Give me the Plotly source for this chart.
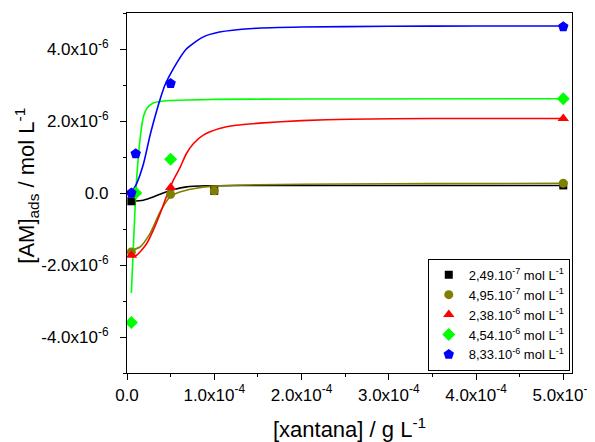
import plotly.graph_objects as go

# ---- data ----
legend_names = [
    "2,49.10<sup>-7</sup> mol L<sup>-1</sup>",
    "4,95.10<sup>-7</sup> mol L<sup>-1</sup>",
    "2,38.10<sup>-6</sup> mol L<sup>-1</sup>",
    "4,54.10<sup>-6</sup> mol L<sup>-1</sup>",
    "8,33.10<sup>-6</sup> mol L<sup>-1</sup>",
]

# measured points
black_x = [5e-6, 1e-4, 5e-4]
black_y = [-0.23e-6, 0.06e-6, 0.21e-6]
olive_x = [5e-6, 5e-5, 1e-4, 5e-4]
olive_y = [-1.64e-6, -0.04e-6, 0.06e-6, 0.27e-6]
red_x = [5e-6, 5e-5, 5e-4]
red_y = [-1.73e-6, 0.15e-6, 2.07e-6]
green_x = [5e-6, 1e-5, 5e-5, 5e-4]
green_y = [-3.6e-6, 0.0, 0.94e-6, 2.62e-6]
blue_x = [5e-6, 1e-5, 5e-5, 5e-4]
blue_y = [0.0, 1.09e-6, 3.04e-6, 4.62e-6]

# fitted curves
black_fit_x = [5e-6, 1.87e-5, 3.0e-5, 4.15e-5, 5.3e-5, 6.83e-5, 9.1e-5, 1.3e-4, 2.0e-4, 3.5e-4, 5e-4]
black_fit_y = [-0.23e-6, -0.2e-6, -0.11e-6, 0.0, 0.09e-6, 0.17e-6, 0.2e-6, 0.21e-6, 0.21e-6, 0.21e-6, 0.21e-6]
olive_fit_x = [5e-6, 1.49e-5, 2.63e-5, 3.78e-5, 4.92e-5, 6.06e-5, 7.6e-5, 9.9e-5, 1.5e-4, 2.5e-4, 3.5e-4, 5e-4]
olive_fit_y = [-1.59e-6, -1.5e-6, -1.13e-6, -0.53e-6, -0.11e-6, 0.03e-6, 0.12e-6, 0.19e-6, 0.23e-6, 0.25e-6, 0.26e-6, 0.27e-6]
red_fit_x = [5e-6, 1.1e-5, 2.25e-5, 3.0e-5, 3.8e-5, 4.5e-5, 5.3e-5, 6.1e-5, 6.8e-5, 7.6e-5, 8.7e-5,
             1.06e-4, 1.25e-4, 1.52e-4, 2.0e-4, 2.55e-4, 3.5e-4, 5e-4]
red_fit_y = [-1.78e-6, -1.73e-6, -1.41e-6, -1.04e-6, -0.57e-6, -0.11e-6, 0.35e-6, 0.72e-6, 1.09e-6, 1.37e-6, 1.6e-6,
             1.79e-6, 1.88e-6, 1.94e-6, 2.01e-6, 2.05e-6, 2.07e-6, 2.07e-6]
green_fit_x = [5e-6, 1.0e-5, 1.3e-5, 1.57e-5, 1.87e-5, 2.25e-5, 3.0e-5, 4.9e-5, 1.0e-4, 2.0e-4, 5e-4]
green_fit_y = [-2.78e-6, 0.0, 1.0e-6, 1.65e-6, 2.11e-6, 2.34e-6, 2.5e-6, 2.57e-6, 2.6e-6, 2.61e-6, 2.62e-6]
blue_fit_x = [5e-6, 1.1e-5, 1.9e-5, 2.6e-5, 3.2e-5, 3.7e-5, 4.35e-5, 5.3e-5, 6.8e-5, 8.7e-5, 1.06e-4,
              1.44e-4, 2.0e-4, 3.0e-4, 4.0e-4, 5e-4]
blue_fit_y = [0.0, 0.26e-6, 0.82e-6, 1.56e-6, 2.11e-6, 2.53e-6, 3.0e-6, 3.45e-6, 4.0e-6, 4.33e-6, 4.47e-6,
              4.57e-6, 4.61e-6, 4.63e-6, 4.64e-6, 4.64e-6]

x_tickvals = [0, 1e-4, 2e-4, 3e-4, 4e-4, 5e-4]
x_ticktext = ["0.0", "1.0x10<sup>-4</sup>", "2.0x10<sup>-4</sup>", "3.0x10<sup>-4</sup>",
              "4.0x10<sup>-4</sup>", "5.0x10<sup>-4</sup>"]
y_tickvals = [-4e-6, -2e-6, 0, 2e-6, 4e-6]
y_ticktext = ["-4.0x10<sup>-6</sup>", "-2.0x10<sup>-6</sup>", "0.0", "2.0x10<sup>-6</sup>", "4.0x10<sup>-6</sup>"]
y_title = "[AM]<sub>ads</sub> / mol L<sup>-1</sup>"
x_title = "[xantana] / g L<sup>-1</sup>"

colors = ["#000000", "#808000", "#FF0000", "#00FF00", "#0000FF"]
symbols = ["square", "circle", "triangle-up", "diamond", "pentagon"]
sizes = [8, 9, 10, 10, 11]

fits = [(black_fit_x, black_fit_y), (olive_fit_x, olive_fit_y), (red_fit_x, red_fit_y),
        (green_fit_x, green_fit_y), (blue_fit_x, blue_fit_y)]
pts = [(black_x, black_y), (olive_x, olive_y), (red_x, red_y), (green_x, green_y), (blue_x, blue_y)]

fig = go.Figure()
for (fx, fy), c in zip(fits, colors):
    fig.add_trace(go.Scatter(x=fx, y=fy, mode="lines", line=dict(color=c, width=1.6, shape="spline", smoothing=0.6),
                             showlegend=False, hoverinfo="skip"))
for (px, py), c, s, sz, n in zip(pts, colors, symbols, sizes, legend_names):
    fig.add_trace(go.Scatter(x=px, y=py, mode="markers", name=n,
                             marker=dict(color=c, symbol=s, size=sz, line=dict(width=0))))

# page body has an 8px margin: the figure is shifted by 8px, so it is made 8px smaller
font_family = "Arial, Liberation Sans, sans-serif"
fig.update_layout(
    width=587, height=434,
    margin=dict(l=119, r=23, t=5, b=69, autoexpand=False),
    paper_bgcolor="white", plot_bgcolor="white",
    font=dict(family=font_family, color="black", size=16),
    legend=dict(x=0.995, y=0.006, xanchor="right", yanchor="bottom",
                bordercolor="black", borderwidth=1, bgcolor="white",
                font=dict(size=13, family=font_family), tracegroupgap=0, itemwidth=30),
    annotations=[dict(text=y_title, textangle=-90, xref="paper", yref="paper",
                      x=-0.225, y=0.52, xanchor="center", yanchor="middle",
                      showarrow=False, font=dict(size=22))],
)
fig.update_xaxes(
    range=[0, 5.1e-4], tickmode="array", tickvals=x_tickvals, ticktext=x_ticktext,
    showline=True, linecolor="black", linewidth=1.2, mirror=True, automargin=False,
    ticks="outside", ticklen=6, tickcolor="black", tickwidth=1,
    showgrid=False, zeroline=False,
    minor=dict(tickmode="linear", tick0=0, dtick=5e-5, ticks="outside", ticklen=3, tickcolor="black", showgrid=False),
    title=dict(text=x_title, font=dict(size=22), standoff=18),
    tickfont=dict(size=17),
)
fig.update_yaxes(
    range=[-5e-6, 5e-6], tickmode="array", tickvals=y_tickvals, ticktext=y_ticktext,
    showline=True, linecolor="black", linewidth=1.2, mirror=True, automargin=False,
    ticks="outside", ticklen=6, tickcolor="black", tickwidth=1,
    showgrid=False, zeroline=False,
    minor=dict(tickmode="linear", tick0=0, dtick=1e-6, ticks="outside", ticklen=3, tickcolor="black", showgrid=False),
    tickfont=dict(size=17), ticklabelstandoff=8,
)
fig.write_html("out.html")
